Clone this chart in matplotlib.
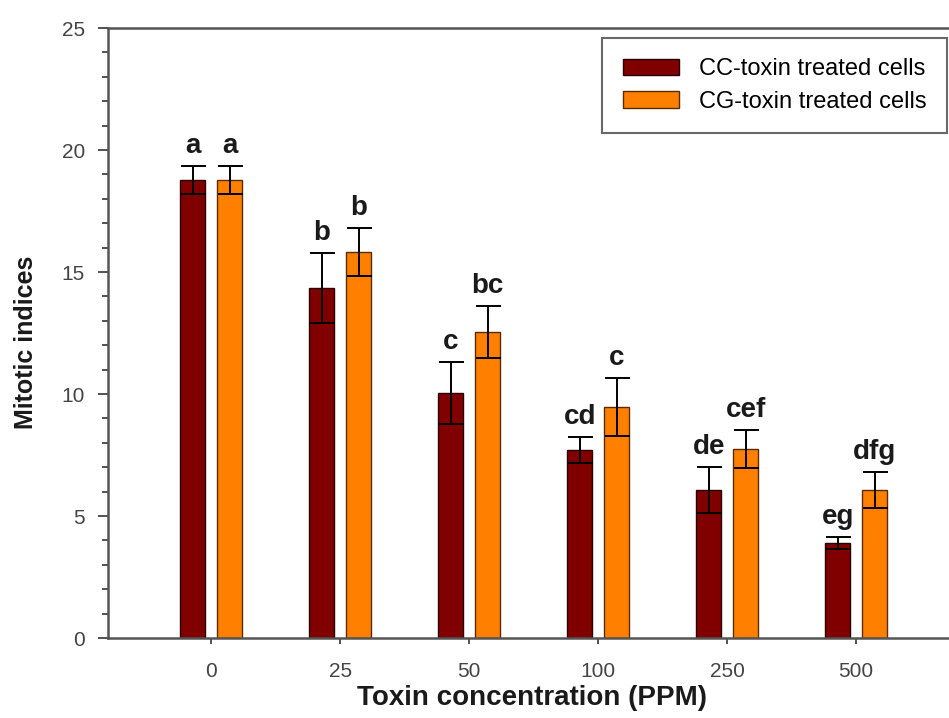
import matplotlib
matplotlib.use("Agg")
import matplotlib.pyplot as plt
import numpy as np
from matplotlib.ticker import MultipleLocator

plt.rcParams['font.family'] = ['Liberation Sans', 'DejaVu Sans']

concentrations = ["0", "25", "50", "100", "250", "500"]
cc_values = [18.77, 14.34, 10.04, 7.70, 6.07, 3.89]
cc_errors = [0.57, 1.44, 1.27, 0.54, 0.95, 0.25]
cg_values = [18.77, 15.82, 12.54, 9.47, 7.74, 6.07]
cg_errors = [0.57, 1.0, 1.07, 1.2, 0.78, 0.73]
cc_letters = ["a", "b", "c", "cd", "de", "eg"]
cg_letters = ["a", "b", "bc", "c", "cef", "dfg"]
series_names = ["CC-toxin treated cells", "CG-toxin treated cells"]

fig = plt.figure(figsize=(9.49, 7.18), dpi=100)
ax = fig.add_axes([108/949, 0.1114, 1 - 108/949, 0.8496])

x = np.arange(len(concentrations))
w = 0.19
off = 0.143
err_kw = dict(ecolor='black', elinewidth=1.4, capsize=9, capthick=1.4)
ax.bar(x - off, cc_values, w, yerr=cc_errors, color='#800000', edgecolor='#2a0000',
       linewidth=1.0, error_kw=err_kw, label=series_names[0])
ax.bar(x + off, cg_values, w, yerr=cg_errors, color='#ff8000', edgecolor='#5a2a00',
       linewidth=1.0, error_kw=err_kw, label=series_names[1])

for xi, v, e, t in zip(x - off, cc_values, cc_errors, cc_letters):
    ax.text(xi, v + e + 0.52, t, ha='center', va='baseline', fontsize=20, fontweight='bold', color='#1a1a1a')
for xi, v, e, t in zip(x + off, cg_values, cg_errors, cg_letters):
    ax.text(xi, v + e + 0.52, t, ha='center', va='baseline', fontsize=20, fontweight='bold', color='#1a1a1a')

ax.set_xlim(-0.8, 5.72)
ax.set_ylim(0, 25)
ax.set_xticks(x)
ax.set_xticklabels(concentrations)
ax.yaxis.set_major_locator(MultipleLocator(5))
ax.yaxis.set_minor_locator(MultipleLocator(1))
ax.tick_params(axis='y', which='major', length=7.5, width=1.3, labelsize=15, colors='#444444', pad=9)
ax.tick_params(axis='y', which='minor', length=4.5, width=1.3, colors='#444444')
ax.tick_params(axis='x', which='major', length=4, width=1.3, labelsize=15, colors='#444444', pad=13)

for s in ['left', 'bottom', 'top']:
    ax.spines[s].set_color('#555555')
    ax.spines[s].set_linewidth(1.8)
ax.spines['right'].set_visible(False)

ax.set_xlabel('Toxin concentration (PPM)', fontsize=20, fontweight='bold', color='#1a1a1a')
ax.set_ylabel('Mitotic indices', fontsize=18, fontweight='bold', color='#1a1a1a')
ax.xaxis.set_label_coords(0.504, -0.077)
ax.yaxis.set_label_coords(-0.083, 0.485)

leg = ax.legend(loc='upper right', bbox_to_anchor=(0.9976, 0.9836), fontsize=17, frameon=True,
                fancybox=False, edgecolor='#444444', handlelength=2.4, handleheight=0.7,
                borderpad=0.85, labelspacing=0.45, handletextpad=0.85, borderaxespad=0.0)
leg.get_frame().set_linewidth(1.5)

fig.savefig('out.png', dpi=100)
